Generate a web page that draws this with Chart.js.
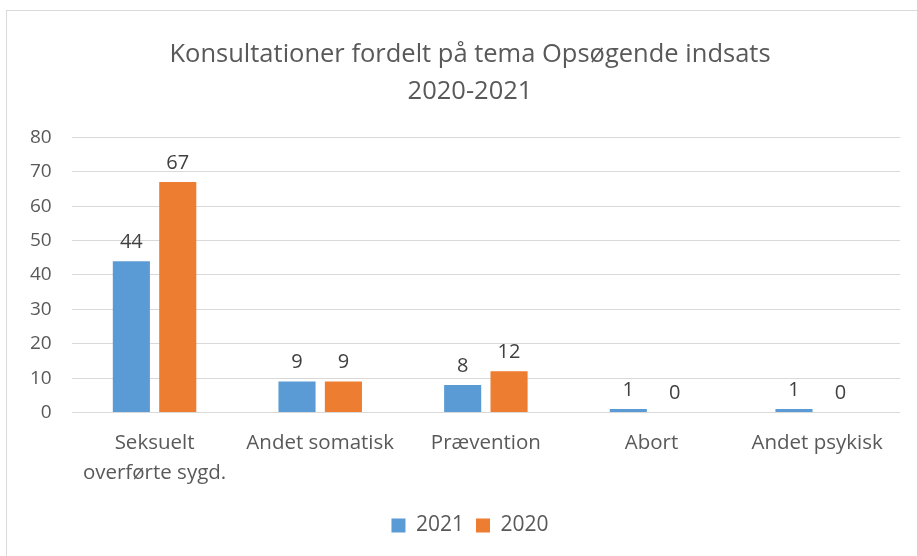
<!DOCTYPE html>
<html>
<head>
<meta charset="utf-8">
<script src="https://cdn.jsdelivr.net/npm/chart.js@4"></script>
<style>
    body { margin: 0; background: #fff; overflow: hidden; }
    #frame {
        position: absolute; left: 6px; top: 10px;
        width: 960px; height: 560px;
        border: 1px solid #d9d9d9;
    }
    #wrap { position: absolute; left: 0; top: 0; width: 940px; height: 556px; }
</style>
</head>
<body>
<div id="frame"></div>
<div id="wrap"><canvas id="chart"></canvas></div>
<script>
const categories = [['Seksuelt', 'overførte sygd.'], 'Andet somatisk', 'Prævention', 'Abort', 'Andet psykisk'];
const values2021 = [44, 9, 8, 1, 1];
const values2020 = [67, 9, 12, 0, 0];
const yTicks = [0, 10, 20, 30, 40, 50, 60, 70, 80];

const textColor = '#595959';
const fontFamily = '"Open Sans", Lato, sans-serif';

// draw the value above every bar
const valueLabels = {
    id: 'valueLabels',
    afterDatasetsDraw(chart) {
        const ctx = chart.ctx;
        ctx.save();
        ctx.fillStyle = '#404040';
        ctx.font = '20px ' + fontFamily;
        ctx.textAlign = 'center';
        ctx.textBaseline = 'bottom';
        chart.data.datasets.forEach((ds, i) => {
            chart.getDatasetMeta(i).data.forEach((bar, j) => {
                ctx.fillText(ds.data[j], bar.x, bar.y - 9);
            });
        });
        ctx.restore();
    }
};

document.addEventListener('DOMContentLoaded', () => {
    const data = {
        labels: categories,
        datasets: [{
            label: '2021',
            data: values2021,
            backgroundColor: '#5b9bd5',
            categoryPercentage: 0.56,
            barPercentage: 0.8
        }, {
            label: '2020',
            data: values2020,
            backgroundColor: '#ed7d31',
            categoryPercentage: 0.56,
            barPercentage: 0.8
        }]
    };

    const config = {
        type: 'bar',
        data: data,
        options: {
            responsive: true,
            maintainAspectRatio: false,
            animation: false,
            layout: {
                padding: { left: 10, right: 10, top: 37, bottom: 10 }
            },
            plugins: {
                legend: {
                    position: 'bottom',
                    labels: {
                        color: textColor,
                        boxWidth: 14,
                        boxHeight: 14,
                        padding: 12,
                        font: { family: fontFamily, size: 21 }
                    }
                },
                title: {
                    display: true,
                    text: ['Konsultationer fordelt på tema Opsøgende indsats', '2020-2021'],
                    color: textColor,
                    font: { family: fontFamily, size: 25.5, weight: 'normal', lineHeight: 1.42 },
                    padding: { top: 0, bottom: 28 }
                },
                tooltip: { enabled: false }
            },
            scales: {
                x: {
                    grid: { display: false },
                    border: { display: false },
                    afterFit: axis => { axis.height += 7; },
                    ticks: {
                        color: textColor,
                        padding: 7,
                        maxRotation: 0,
                        font: { family: fontFamily, size: 20.5, lineHeight: 1.5 }
                    }
                },
                y: {
                    min: 0,
                    max: 80,
                    afterBuildTicks: axis => { axis.ticks = yTicks.map(v => ({ value: v })); },
                    grid: { color: '#d9d9d9', drawTicks: false },
                    border: { display: false },
                    ticks: {
                        color: textColor,
                        padding: 20,
                        font: { family: fontFamily, size: 19 }
                    }
                },
                // empty space on the right so title and legend sit where the original has them
                yRight: {
                    position: 'right',
                    grid: { display: false },
                    border: { display: false },
                    ticks: { display: false },
                    afterFit: axis => { axis.width = 30; }
                }
            }
        },
        plugins: [valueLabels]
    };

    const ctx = document.getElementById('chart').getContext('2d');
    new Chart(ctx, config);
});
</script>
</body>
</html>
